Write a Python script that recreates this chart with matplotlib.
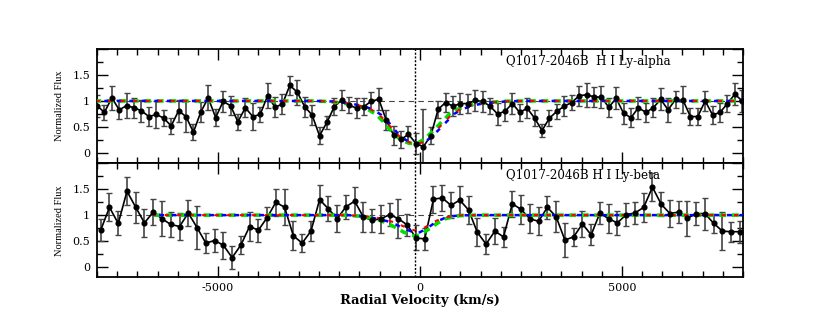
import numpy as np
import matplotlib
matplotlib.use("Agg")
import matplotlib.pyplot as plt
from matplotlib.ticker import MultipleLocator, FuncFormatter

plt.rcParams['axes.unicode_minus'] = False
plt.rcParams['font.family'] = ['DejaVu Serif']
plt.rcParams['lines.scale_dashes'] = False

# ---------------- data ----------------
top_v = [-8000, -7816, -7633, -7449, -7265, -7082, -6898, -6714, -6530, -6347,
         -6163, -5979, -5796, -5612, -5428, -5245, -5061, -4877, -4693, -4510,
         -4326, -4142, -3959, -3775, -3591, -3408, -3224, -3040, -2856, -2673,
         -2489, -2305, -2122, -1938, -1754, -1571, -1387, -1203, -1019, -836,
         -652, -468, -285, -101, 83, 267, 450, 634, 818, 1001,
         1185, 1369, 1552, 1736, 1920, 2104, 2287, 2471, 2655, 2838,
         3022, 3206, 3389, 3573, 3757, 3941, 4124, 4308, 4492, 4675,
         4859, 5043, 5226, 5410, 5594, 5778, 5961, 6145, 6329, 6512,
         6696, 6880, 7063, 7247, 7431, 7615, 7798, 7982]
top_flux = [0.91, 0.78, 1.06, 0.83, 0.91, 0.87, 0.81, 0.70, 0.74, 0.67,
            0.52, 0.81, 0.70, 0.40, 0.79, 1.06, 0.68, 0.99, 0.91, 0.60,
            0.87, 0.70,
            0.74, 1.10, 0.88, 0.94, 1.30, 1.17, 0.89, 0.73, 0.33, 0.59,
            0.89, 1.02, 0.92, 0.86, 0.89, 1.00, 1.03, 0.63, 0.34, 0.26,
            0.36, 0.18,
            0.12, 0.33, 0.84, 0.97, 0.90, 0.95, 0.95, 1.01, 0.99, 0.90,
            0.75, 0.80, 0.95, 0.78, 0.86, 0.67, 0.43, 0.67, 0.80, 0.90,
            0.97,
            1.10, 1.12, 1.08, 1.07, 0.88, 1.05, 0.76, 0.68, 0.87, 0.78,
            0.87, 1.03, 0.83, 1.03, 1.02, 0.70, 0.70, 1.00, 0.73, 0.78,
            0.95, 1.13, 1.00]
top_err = [0.21, 0.15, 0.23, 0.18, 0.24, 0.19, 0.21, 0.19, 0.26, 0.16,
           0.15, 0.21, 0.29, 0.15, 0.19, 0.24, 0.16, 0.21, 0.18, 0.15,
           0.18, 0.26,
           0.14, 0.24, 0.19, 0.19, 0.18, 0.24, 0.19, 0.19, 0.16, 0.13,
           0.16, 0.19, 0.16, 0.19, 0.16, 0.18, 0.21, 0.19, 0.18, 0.16,
           0.15, 0.21,
           0.72, 0.16, 0.16, 0.19, 0.19, 0.21, 0.18, 0.20, 0.21, 0.15,
           0.21, 0.19, 0.21, 0.16, 0.19, 0.16, 0.13, 0.15, 0.15, 0.19,
           0.15,
           0.19, 0.23, 0.19, 0.21, 0.18, 0.21, 0.21, 0.18, 0.21, 0.18,
           0.18, 0.21, 0.23, 0.17, 0.26, 0.17, 0.17, 0.19, 0.18, 0.18,
           0.16, 0.21, 0.21]

bot_v = [-7908, -7691, -7474, -7257, -7040, -6824, -6607, -6390, -6173, -5956,
         -5739, -5522, -5305, -5088, -4871, -4654, -4438, -4221, -4004, -3787,
         -3570, -3353, -3136, -2919, -2702, -2486, -2269, -2052, -1835, -1618,
         -1401, -1184, -967, -750, -533, -316, -100, 117, 334, 551,
         768, 985, 1202, 1419, 1636, 1853, 2069, 2286, 2503, 2720,
         2937, 3154, 3371, 3588, 3805, 4022, 4239, 4455, 4672, 4889,
         5106, 5323, 5540, 5757, 5974, 6191, 6408, 6624, 6841, 7058,
         7275, 7492, 7709, 7926]
bot_flux = [0.71, 1.15, 0.84, 1.46, 1.15, 0.85, 1.06, 0.93, 0.82, 0.78,
            1.04, 0.76, 0.46, 0.51, 0.42, 0.18, 0.42, 0.78, 0.71, 0.95,
            1.25, 1.15, 0.60, 0.46, 0.69, 1.30, 1.12, 0.93, 1.16, 1.27,
            0.96, 0.90, 0.93, 1.01, 0.93, 0.81, 0.56,
            0.54, 1.31, 1.33, 1.19, 1.29, 1.10, 0.67, 0.44, 0.69, 0.58,
            1.22, 1.11, 0.93, 0.88, 1.15, 0.97, 0.52, 0.58, 0.83, 0.62,
            1.04, 0.93, 0.85, 1.01, 1.04, 1.15, 1.54, 1.21, 1.03, 1.06,
            0.94, 1.03, 1.03, 0.84, 0.69, 0.68, 0.68]
bot_err = [0.21, 0.27, 0.23, 0.27, 0.30, 0.27, 0.25, 0.34, 0.24, 0.26,
           0.25, 0.42, 0.19, 0.23, 0.26, 0.22, 0.17, 0.28,
           0.22, 0.21, 0.26, 0.35, 0.28, 0.18, 0.19, 0.29, 0.24, 0.26,
           0.23, 0.28, 0.29, 0.22, 0.27, 0.22, 0.38, 0.21,
           0.24,
           0.21, 0.26, 0.26, 0.25, 0.27, 0.27, 0.27, 0.19, 0.25, 0.19,
           0.25, 0.28, 0.28, 0.27, 0.22, 0.30, 0.33, 0.18,
           0.25, 0.20, 0.21, 0.28, 0.23, 0.22, 0.21, 0.28, 0.27, 0.23,
           0.26, 0.22, 0.34, 0.23, 0.31, 0.18, 0.37, 0.19, 0.21]

# model profiles (fits)
top_model_v = [-8000, -2600, -2200, -1800, -1600, -1400, -1200, -1000, -800,
               -600, -400, -200, 0, 200, 400, 600, 800, 1000, 1200, 1400,
               1600, 1800, 2200, 2600, 8000]
top_model_flux = [1.0, 1.0, 0.99, 0.955, 0.925, 0.89, 0.83, 0.73, 0.57,
                  0.38, 0.25, 0.185, 0.18, 0.28, 0.43, 0.59, 0.75, 0.84, 0.895,
                  0.935, 0.96, 0.975, 0.995, 1.0, 1.0]
top_model_shift = {'green': -70, 'blue': 45, 'red': 0}

bot_model_v = [-6600, -1800, -1400, -1000, -800, -600, -400, -200, -100, 0,
               200, 400, 600, 800, 1000, 1400, 8000]
bot_model_red = [1, 1, 0.985, 0.94, 0.90, 0.85, 0.78, 0.72, 0.70, 0.71,
                 0.80, 0.89, 0.95, 0.98, 0.995, 1, 1]
bot_model_green = [1, 1, 0.975, 0.90, 0.84, 0.76, 0.67, 0.61, 0.60, 0.62,
                   0.72, 0.83, 0.92, 0.97, 0.99, 1, 1]
bot_model_blue = [1, 1, 0.98, 0.92, 0.88, 0.82, 0.74, 0.68, 0.66, 0.67,
                  0.76, 0.87, 0.94, 0.98, 0.995, 1, 1]

v_sys = -120
titles = ["Q1017-2046B  H I Ly-alpha", "Q1017-2046B H I Ly-beta"]

# ---------------- figure ----------------
fig = plt.figure(figsize=(8.34, 3.27), dpi=100)
ax1 = fig.add_axes([0.1163, 0.5006, 0.7746, 0.3495])
ax2 = fig.add_axes([0.1163, 0.152, 0.7746, 0.3486], sharex=ax1)

styles = {'green': dict(color='#00e000', lw=2.6, ls=(0, (5, 4))),
          'blue': dict(color='#0000ff', lw=1.8, ls=(5, (3.5, 5.5))),
          'red': dict(color='#ff0000', lw=1.5, ls=(1, (3, 6)))}


def draw_panel(ax, v, f, e, models, title):
    ax.axhline(1.0, color='#444444', lw=0.8, linestyle=(0, (4, 3)), zorder=1)
    ax.errorbar(v, f, yerr=e, fmt='none', ecolor='#444444', elinewidth=1.2,
                capsize=2.5, capthick=1.0, zorder=2)
    ax.plot(v, f, color='black', lw=1.2, zorder=2.5)
    for name, (mv, mf) in models.items():
        st = styles[name]
        ax.plot(mv, mf, color=st['color'], lw=st['lw'], linestyle=st['ls'],
                zorder=3)
    ax.plot(v, f, 'o', color='black', ms=3.4, zorder=4)
    ax.axvline(v_sys, color='black', lw=1.0, linestyle=(0, (1.5, 1.2)), zorder=5)
    ax.set_xlim(-8000, 8000)
    ax.set_ylim(-0.2, 2.0)
    ax.xaxis.set_major_locator(MultipleLocator(5000))
    ax.xaxis.set_minor_locator(MultipleLocator(500))
    ax.yaxis.set_major_locator(MultipleLocator(0.5))
    ax.yaxis.set_minor_locator(MultipleLocator(0.25))
    ax.yaxis.set_major_formatter(FuncFormatter(lambda y, p: ("%g" % y) if 0 <= y <= 1.5 else ""))
    ax.tick_params(which='both', direction='in', top=True, right=True,
                   labelsize=8, width=1.0, colors='black')
    ax.tick_params(which='major', length=8)
    ax.tick_params(which='minor', length=4)
    ax.tick_params(axis='y', which='major', pad=5)
    for sp in ax.spines.values():
        sp.set_linewidth(1.3)
    ax.set_ylabel("Normalized Flux", family=['Liberation Serif'], fontsize=7.5,
                  labelpad=6)
    ax.text(0.633, 0.895, title, transform=ax.transAxes, fontsize=8.6,
            ha='left', va='center')


top_models = {name: ([x + top_model_shift[name] for x in top_model_v], top_model_flux)
              for name in ['green', 'blue', 'red']}
bot_models = {'green': (bot_model_v, bot_model_green),
              'blue': (bot_model_v, bot_model_blue),
              'red': (bot_model_v, bot_model_red)}

draw_panel(ax1, top_v, top_flux, top_err, top_models, titles[0])
draw_panel(ax2, bot_v, bot_flux, bot_err, bot_models, titles[1])

ax1.tick_params(axis='x', labelbottom=False)
ax2.xaxis.set_major_formatter(FuncFormatter(lambda x, p: "%d" % x))
ax2.tick_params(axis='x', pad=4)
ax2.set_xlabel("Radial Velocity (km/s)", fontsize=9.4, fontweight='bold',
               labelpad=1)

fig.savefig("out.png", dpi=100)
